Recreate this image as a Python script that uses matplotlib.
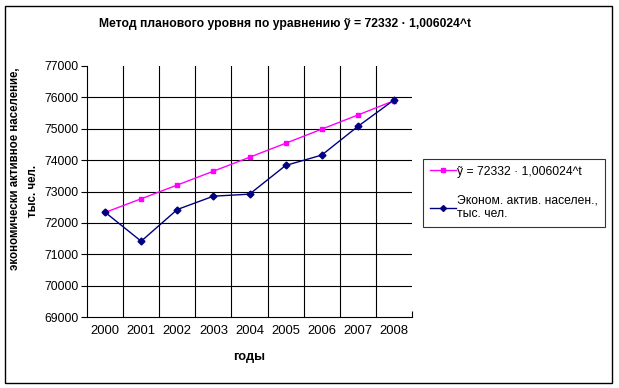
import matplotlib
matplotlib.use("Agg")
import matplotlib.pyplot as plt
from matplotlib.patches import Rectangle

plt.rcParams['font.family'] = ['Liberation Sans', 'DejaVu Sans']

years = ["2000", "2001", "2002", "2003", "2004", "2005", "2006", "2007", "2008"]
trend = [72332, 72768, 73206, 73647, 74091, 74537, 74986, 75438, 75893]
actual = [72340, 71415, 72426, 72851, 72915, 73830, 74160, 75074, 75915]
yticks = [69000, 70000, 71000, 72000, 73000, 74000, 75000, 76000, 77000]

trend_label = "ỹ = 72332 · 1,006024^t"
actual_label = "Эконом. актив. населен.,\nтыс. чел."
title = "Метод планового уровня по уравнению ỹ = 72332 · 1,006024^t"

W, H = 619, 388
fig = plt.figure(figsize=(W / 100, H / 100), dpi=100)
fig.patch.set_facecolor("white")

# outer border
fig.patches.append(Rectangle((4.5 / W, 5.5 / H), (612 - 4.5) / W, (382 - 5.5) / H,
                             transform=fig.transFigure, fill=False, ec="black", lw=1.0))

L, R, T, B = 87, 412, 66, 317
ax = fig.add_axes([L / W, 1 - B / H, (R - L) / W, (B - T) / H])
x = list(range(len(years)))

ax.set_xlim(-0.5, len(years) - 0.5)
ax.set_ylim(yticks[0], yticks[-1])

for yv in yticks[1:-1]:
    ax.axhline(yv, color="black", lw=0.8, zorder=1)
for xb in range(len(years) - 1):
    ax.axvline(xb + 0.5, color="black", lw=0.8, zorder=1)

ax.plot(x, trend, color="#FF00FF", lw=1.0, marker="s", ms=3.5, mec="#FF00FF",
        mfc="#FF00FF", label=trend_label, zorder=3)
ax.plot(x, actual, color="#000080", lw=1.0, marker="D", ms=3.5, mec="#000080",
        mfc="#000080", label=actual_label, zorder=4)

for s in ["top", "right"]:
    ax.spines[s].set_visible(False)
for s in ["left", "bottom"]:
    ax.spines[s].set_color("black")
    ax.spines[s].set_linewidth(0.8)

ax.set_yticks(yticks)
ax.set_yticklabels([str(v) for v in yticks], fontsize=8.7)
ax.tick_params(axis="y", direction="out", length=4, width=0.8, pad=2)
ax.set_xticks(x)
ax.set_xticklabels(years, fontsize=9.4)
ax.tick_params(axis="x", length=0, pad=6)
ax.set_xticks([len(years) - 0.5], minor=True)
ax.tick_params(axis="x", which="minor", direction="in", length=4, width=0.8)

ax.set_xlabel("годы", fontsize=9.2, fontweight="bold", labelpad=10)

fig.text(285 / W, 1 - 24 / H, title, ha="center", va="center", fontsize=8.7,
         fontweight="bold")
fig.text(15 / W, 1 - 169 / H, "экономически активное население,", rotation=90,
         ha="center", va="center", fontsize=8.3, fontweight="bold")
fig.text(33 / W, 1 - 191 / H, "тыс. чел.", rotation=90,
         ha="center", va="center", fontsize=8.3, fontweight="bold")

leg = ax.legend(loc="upper left", bbox_to_anchor=(423 / W, 1 - 159 / H),
                bbox_transform=fig.transFigure, fontsize=8.7, frameon=True,
                fancybox=False, edgecolor="black", handlelength=2.2,
                handletextpad=0.1, labelspacing=1.4, borderpad=0.55,
                borderaxespad=0)
leg.get_frame().set_linewidth(0.8)
for line in leg.get_lines():
    line.set_markersize(3)

fig.savefig("out.png", dpi=100, facecolor="white")
